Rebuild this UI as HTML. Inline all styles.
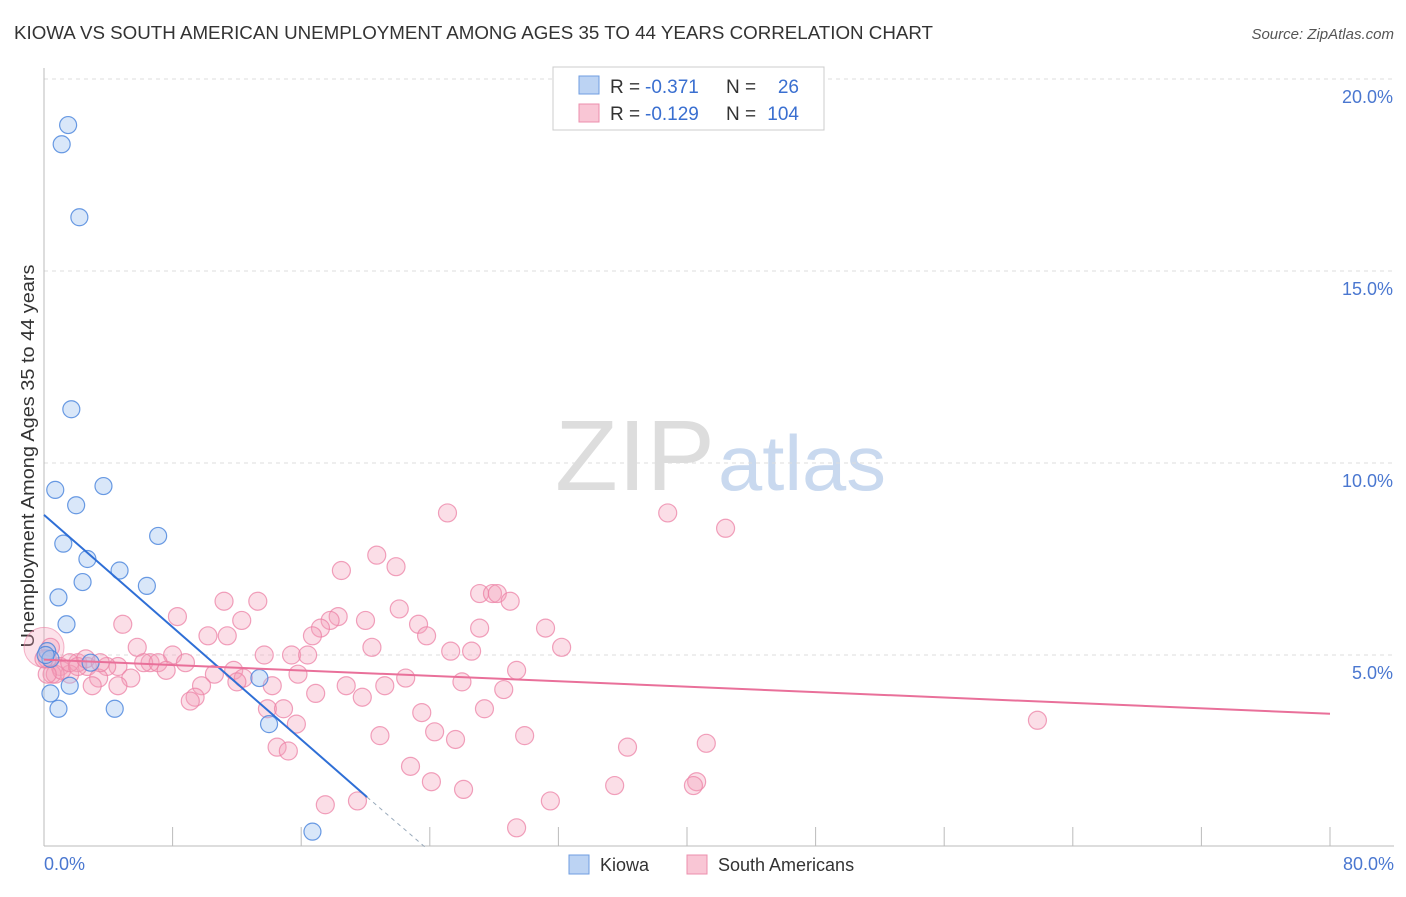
<!DOCTYPE html>
<html><head><meta charset="utf-8"><style>
body{margin:0;background:#fff;font-family:"Liberation Sans",sans-serif}
svg text{font-family:"Liberation Sans",sans-serif}
</style></head><body>
<svg width="1406" height="892" id="svg">
<text x="14" y="39" font-size="18" fill="#333" textLength="919" lengthAdjust="spacingAndGlyphs">KIOWA VS SOUTH AMERICAN UNEMPLOYMENT AMONG AGES 35 TO 44 YEARS CORRELATION CHART</text>
<text x="1394" y="39" font-size="15" fill="#555" font-style="italic" text-anchor="end">Source: ZipAtlas.com</text>
<text x="555" y="490" font-size="100" fill="#ddd" font-family="Liberation Serif" textLength="160" lengthAdjust="spacingAndGlyphs">ZIP</text>
<text x="718" y="490" font-size="78" fill="#c9d9ef" textLength="168" lengthAdjust="spacingAndGlyphs">atlas</text>
<g id="grid"></g>
<line x1="44" y1="68" x2="44" y2="846" stroke="#bbb"/>
<line x1="44" y1="846" x2="1394" y2="846" stroke="#bbb"/>
<text x="34" y="456" font-size="18" fill="#333" text-anchor="middle" textLength="383" lengthAdjust="spacingAndGlyphs" transform="rotate(-90 34 456)">Unemployment Among Ages 35 to 44 years</text>
<text x="44" y="870" font-size="18" fill="#4a77d0">0.0%</text>
<text x="1394" y="870" font-size="18" fill="#4a77d0" text-anchor="end">80.0%</text>
<g id="pink"></g><g id="blue"></g><g id="lines"></g>
<g>
<rect x="553" y="67" width="271" height="63" fill="#fff" stroke="#ccc"/>
<rect x="579" y="76" width="20" height="18" fill="#bcd3f3" stroke="#6f9ee0"/>
<rect x="579" y="104" width="20" height="18" fill="#f9c6d5" stroke="#ec8fad"/>
<text x="610" y="93" font-size="19" fill="#333">R =</text>
<text x="645" y="93" font-size="19" fill="#3a6fd0">-0.371</text>
<text x="726" y="93" font-size="19" fill="#333">N =</text>
<text x="799" y="93" font-size="19" fill="#3a6fd0" text-anchor="end">26</text>
<text x="610" y="120" font-size="19" fill="#333">R =</text>
<text x="645" y="120" font-size="19" fill="#3a6fd0">-0.129</text>
<text x="726" y="120" font-size="19" fill="#333">N =</text>
<text x="799" y="120" font-size="19" fill="#3a6fd0" text-anchor="end">104</text>
</g>
<g>
<rect x="569" y="855" width="20" height="19" fill="#bcd3f3" stroke="#6f9ee0"/>
<text x="600" y="871" font-size="18" fill="#333">Kiowa</text>
<rect x="687" y="855" width="20" height="19" fill="#f9c6d5" stroke="#ec8fad"/>
<text x="718" y="871" font-size="18" fill="#333">South Americans</text>
</g>
</svg>
<script>
const yTicks=[5,10,15,20];
const xTicks=[8,16,24,32,40,48,56,64,72,80];
const kiowaX=[1.5,1.1,2.2,1.7,0.7,3.7,2.0,7.1,1.2,2.7,4.7,2.4,6.4,0.9,1.4,0.2,0.4,2.9,1.6,0.4,0.9,4.4,13.4,14.0,16.7,0.1];
const kiowaY=[18.8,18.3,16.4,11.4,9.3,9.4,8.9,8.1,7.9,7.5,7.2,6.9,6.8,6.5,5.8,5.1,4.9,4.8,4.2,4.0,3.6,3.6,4.4,3.2,0.4,5.0];
const saX=[25.1,38.8,42.4,20.7,21.9,18.5,27.1,27.9,28.2,29.0,22.1,11.2,13.3,8.3,18.3,17.8,20.0,4.9,12.3,23.3,17.2,23.8,31.2,27.1,10.2,11.4,16.7,5.8,32.2,20.4,26.6,25.3,15.4,16.4,13.7,8.0,8.8,6.6,6.2,7.1,4.6,2.7,3.9,2.1,1.0,0.5,1.6,3.4,5.4,11.8,10.6,7.6,12.4,15.8,22.5,29.4,12.0,14.2,4.6,3.0,9.8,26.0,18.8,21.2,16.9,28.6,9.4,9.1,19.8,13.9,14.9,27.4,23.5,15.7,24.3,25.6,29.9,20.9,36.3,41.2,14.5,15.2,22.8,24.1,35.5,40.6,40.4,26.1,17.5,19.5,31.5,29.4,61.8,0.4,0.2,0.7,1.1,1.6,2.1,2.6,3.5,0.2,0.0];
const saY=[8.7,8.7,8.3,7.6,7.3,7.2,6.6,6.6,6.6,6.4,6.2,6.4,6.4,6.0,6.0,5.9,5.9,5.8,5.9,5.8,5.7,5.5,5.7,5.7,5.5,5.5,5.5,5.2,5.2,5.2,5.1,5.1,5.0,5.0,5.0,5.0,4.8,4.8,4.8,4.8,4.7,4.7,4.7,4.8,4.7,4.5,4.5,4.4,4.4,4.6,4.5,4.6,4.4,4.5,4.4,4.6,4.3,4.2,4.2,4.2,4.2,4.3,4.2,4.2,4.0,4.1,3.9,3.8,3.9,3.6,3.6,3.6,3.5,3.2,3.0,2.8,2.9,2.9,2.6,2.7,2.6,2.5,2.1,1.7,1.6,1.7,1.6,1.5,1.1,1.2,1.2,0.5,3.3,5.2,4.9,4.5,4.6,4.8,4.7,4.9,4.8,4.5,4.9];
const X=v=>44+v*16.075, Y=v=>847-v*38.4;
const NS='http://www.w3.org/2000/svg';
function mk(t,a,p){const e=document.createElementNS(NS,t);for(const k in a)e.setAttribute(k,a[k]);p.appendChild(e);return e;}
const grid=document.getElementById('grid');
yTicks.forEach(t=>{
 const l=mk('line',{x1:44,x2:1394,y1:Y(t),y2:Y(t),stroke:'#ddd','stroke-dasharray':'4,4'},grid);
 
 
 const tx=mk('text',{x:1393,y:Y(t)+24,'font-size':18,fill:'#4a77d0','text-anchor':'end'},grid);
 tx.textContent=t.toFixed(1)+'%';
 
 
});
xTicks.forEach(t=>{
 const l=mk('line',{x1:X(t),x2:X(t),y1:827,y2:846,stroke:'#bbb'},grid);
 
 
});
const pink=document.getElementById('pink');
mk('circle',{cx:X(0),cy:Y(5.2),r:20,fill:'rgba(244,160,186,0.3)',stroke:'rgba(236,130,165,0.6)'},pink);
saX.forEach((x,i)=>{
 const c=mk('circle',{cx:X(x),cy:Y(saY[i]),r:9,fill:'rgba(244,160,186,0.35)',stroke:'rgba(236,130,165,0.75)','stroke-width':1.2},pink);
 
 
});
const blue=document.getElementById('blue');
kiowaX.forEach((x,i)=>{
 const c=mk('circle',{cx:X(x),cy:Y(kiowaY[i]),r:8.5,fill:'rgba(160,195,240,0.4)',stroke:'rgba(70,130,220,0.8)','stroke-width':1.2},blue);
 
 
});
const lines=document.getElementById('lines');
const b=mk('line',{x1:X(0),y1:Y(8.65),x2:X(20.1),y2:Y(1.3),stroke:'#2f6fd6','stroke-width':2},lines);


const bd=mk('line',{x1:X(20.1),y1:Y(1.3),x2:X(23.7),y2:Y(0),stroke:'#9ab','stroke-width':1,'stroke-dasharray':'4,4'},lines);


const p=mk('line',{x1:X(0),y1:Y(4.88),x2:X(80),y2:Y(3.47),stroke:'#e9709a','stroke-width':2},lines);


</script>
</body></html>
